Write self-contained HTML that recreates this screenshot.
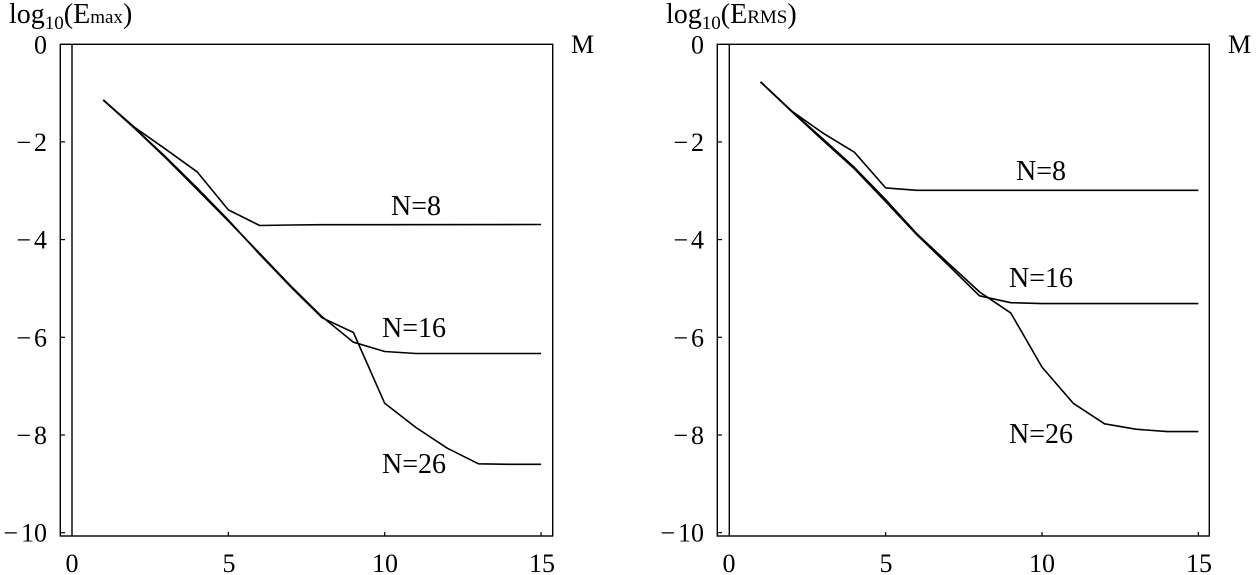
<!DOCTYPE html>
<html><head><meta charset="utf-8"><style>
html,body{margin:0;padding:0;background:#fff;}
svg{display:block;}
text{font-family:"Liberation Serif","Times New Roman",serif;fill:#000;}
</style></head><body>
<svg width="1256" height="575" viewBox="0 0 1256 575" xmlns="http://www.w3.org/2000/svg">
<g id="left">
  <rect x="60.3" y="44.3" width="492.4" height="491.7" fill="none" stroke="#000" stroke-width="1.4"/>
  <line x1="72" y1="44.3" x2="72" y2="536" stroke="#000" stroke-width="1.4"/>
  <g stroke="#000" stroke-width="1.2">
    <line x1="60.3" y1="141.9" x2="65" y2="141.9"/>
    <line x1="60.3" y1="239.6" x2="65" y2="239.6"/>
    <line x1="60.3" y1="337.3" x2="65" y2="337.3"/>
    <line x1="60.3" y1="435" x2="65" y2="435"/>
    <line x1="60.3" y1="532.7" x2="65" y2="532.7"/>
    <line x1="228.35" y1="536" x2="228.35" y2="532"/>
    <line x1="384.7" y1="536" x2="384.7" y2="532"/>
    <line x1="541.05" y1="536" x2="541.05" y2="532"/>
  </g>
  <g font-size="26" text-anchor="end">
    <text x="47" y="53.5">0</text>
    <text x="47" y="151"><tspan>−</tspan><tspan dx="3">2</tspan></text>
    <text x="47" y="248.6"><tspan>−</tspan><tspan dx="3">4</tspan></text>
    <text x="47" y="346.3"><tspan>−</tspan><tspan dx="3">6</tspan></text>
    <text x="47" y="444"><tspan>−</tspan><tspan dx="3">8</tspan></text>
    <text x="47" y="541.7"><tspan>−</tspan><tspan dx="3">10</tspan></text>
  </g>
  <g font-size="26" text-anchor="middle">
    <text x="72" y="572">0</text>
    <text x="229" y="572">5</text>
    <text x="385" y="572">10</text>
    <text x="542" y="572">15</text>
  </g>
  <text x="9" y="23" font-size="28">log<tspan font-size="19" dy="6">10</tspan><tspan dy="-6">(E</tspan><tspan font-size="19">max</tspan>)</text>
  <text x="571" y="53" font-size="26">M</text>
  <g fill="none" stroke="#000" stroke-width="1.6" stroke-linejoin="round">
    <polyline points="103.27,100 134.54,127.3 165.81,149.3 197.08,171.8 228.35,209.9 259.62,225.5 290.89,225 322.16,224.7 541.05,224.5"/>
    <polyline points="103.27,100 134.54,128.3 165.81,158.1 197.08,189.4 228.35,221.1 259.62,253.3 290.89,286.1 322.16,316.8 353.43,342.2 384.7,351.5 415.97,353.5 541.05,353.5"/>
    <polyline points="103.27,100 134.54,127.8 165.81,157.1 197.08,187.9 228.35,220.1 259.62,254.3 290.89,287 322.16,317.8 353.43,332.5 384.7,403.3 415.97,427.5 447.24,448.2 478.51,463.8 509.78,464.3 541.05,464.3"/>
  </g>
  <g font-size="28">
    <text x="391" y="215">N=8</text>
    <text x="382" y="337">N=16</text>
    <text x="382" y="473">N=26</text>
  </g>
</g>
<g id="right">
  <rect x="717.3" y="44.3" width="492" height="491.7" fill="none" stroke="#000" stroke-width="1.4"/>
  <line x1="729.3" y1="44.3" x2="729.3" y2="536" stroke="#000" stroke-width="1.4"/>
  <g stroke="#000" stroke-width="1.2">
    <line x1="717.3" y1="141.9" x2="722" y2="141.9"/>
    <line x1="717.3" y1="239.6" x2="722" y2="239.6"/>
    <line x1="717.3" y1="337.3" x2="722" y2="337.3"/>
    <line x1="717.3" y1="435" x2="722" y2="435"/>
    <line x1="717.3" y1="532.7" x2="722" y2="532.7"/>
    <line x1="885.65" y1="536" x2="885.65" y2="532"/>
    <line x1="1042" y1="536" x2="1042" y2="532"/>
    <line x1="1198.35" y1="536" x2="1198.35" y2="532"/>
  </g>
  <g font-size="26" text-anchor="end">
    <text x="704" y="53.5">0</text>
    <text x="704" y="151"><tspan>−</tspan><tspan dx="3">2</tspan></text>
    <text x="704" y="248.6"><tspan>−</tspan><tspan dx="3">4</tspan></text>
    <text x="704" y="346.3"><tspan>−</tspan><tspan dx="3">6</tspan></text>
    <text x="704" y="444"><tspan>−</tspan><tspan dx="3">8</tspan></text>
    <text x="704" y="541.7"><tspan>−</tspan><tspan dx="3">10</tspan></text>
  </g>
  <g font-size="26" text-anchor="middle">
    <text x="729" y="572">0</text>
    <text x="886" y="572">5</text>
    <text x="1042" y="572">10</text>
    <text x="1199" y="572">15</text>
  </g>
  <text x="666" y="23" font-size="28">log<tspan font-size="19" dy="6">10</tspan><tspan dy="-6">(E</tspan><tspan font-size="19">RMS</tspan>)</text>
  <text x="1228" y="53" font-size="26">M</text>
  <g fill="none" stroke="#000" stroke-width="1.6" stroke-linejoin="round">
    <polyline points="760.57,81.9 791.84,111.2 823.11,133.2 854.38,152.2 885.65,187.9 916.92,190.3 948.19,190.3 1198.35,190.3"/>
    <polyline points="760.57,81.9 791.84,111.7 823.11,140.5 854.38,168.8 885.65,201.6 916.92,234.8 948.19,265.1 979.46,295.8 1010.73,302.7 1042,303.6 1073.27,303.6 1198.35,303.6"/>
    <polyline points="760.57,81.9 791.84,111.2 823.11,139.1 854.38,167.4 885.65,199.6 916.92,233.8 948.19,263.1 979.46,291.9 1010.73,312.9 1042,367.1 1073.27,403.3 1104.54,423.8 1135.81,429.2 1167.08,431.6 1198.35,431.6"/>
  </g>
  <g font-size="28">
    <text x="1016" y="180">N=8</text>
    <text x="1009" y="287">N=16</text>
    <text x="1009" y="443">N=26</text>
  </g>
</g>
</svg>
</body></html>
